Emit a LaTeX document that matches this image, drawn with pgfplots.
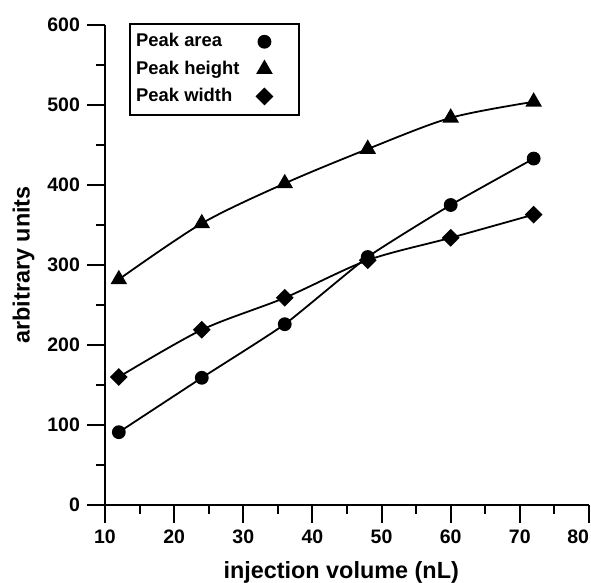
\documentclass[border=0pt]{standalone}
\usepackage{fontspec}
\setmainfont{Liberation Sans}
\usepackage{pgfplots}
\pgfplotsset{compat=1.18}
\usetikzlibrary{calc}

\begin{document}
\begin{tikzpicture}
\begin{axis}[
    name=ax,
    scale only axis,
    width=242pt, height=240pt,
    xmin=10, xmax=80, ymin=0, ymax=600,
    axis lines=left,
    axis line style={-, line width=1pt},
    xtick={10,20,...,80}, ytick={0,100,...,600},
    xticklabels={10,20,30,40,50,60,70,\llap{80}},
    minor x tick num=1, minor y tick num=1,
    tick align=outside,
    major tick length=9pt, minor tick length=4.5pt,
    every tick/.style={black, line width=1pt},
    /pgf/number format/assume math mode=true,
    ticklabel style={font=\fontsize{9.75}{11}\selectfont\bfseries},
    xlabel={injection volume (nL)},
    ylabel={arbitrary units},
    every axis x label/.style={at={(axis description cs:0.488,-0.14)}, anchor=center,
        font=\fontsize{11.7}{13}\selectfont\bfseries},
    every axis y label/.style={at={(axis description cs:-0.168,0.5)}, rotate=90, anchor=center,
        font=\fontsize{11.7}{13}\selectfont\bfseries},
    legend style={at={(axis description cs:0.05,1.005)}, anchor=north west,
        draw=black, line width=1pt, inner xsep=1pt, inner ysep=3pt,
        font=\fontsize{9.2}{11}\selectfont\bfseries, row sep=1.5pt},
    legend cell align=left,
    legend plot pos=right,
    legend image code/.code={
        \path (0cm,0cm) (0.85cm,0cm);
        \draw[mark repeat=2, mark phase=2, #1]
            plot coordinates {(0cm,0cm) (0.3cm,0cm) (0.85cm,0cm)};},
    /tikz/every odd column/.append style={column sep=1.5pt},
]
\addlegendimage{only marks, mark=*, mark size=3pt, black, line width=0.9pt}
\addlegendentry{Peak area}
\addlegendimage{only marks, mark=triangle*, mark size=3.9pt, black, line width=0.9pt}
\addlegendentry{Peak height}
\addlegendimage{only marks, mark=square*, mark size=2.7pt, black, line width=0.9pt,
    mark options={rotate=45}}
\addlegendentry{Peak width}

% peak area
\addplot[forget plot, black, line width=0.9pt, smooth, tension=0.3, mark=*, mark size=3pt,
    mark options={solid, fill=black}]
    coordinates {(12,91) (24,159) (36,226) (48,310) (60,375) (72,433)};
% peak height
\addplot[forget plot, black, line width=0.9pt, smooth, mark=triangle*, mark size=3.9pt,
    mark options={solid, fill=black}]
    coordinates {(12,282) (24,352) (36,402) (48,445) (60,484) (72,504)};
% peak width
\addplot[forget plot, black, line width=0.9pt, smooth, mark=square*, mark size=2.7pt,
    mark options={solid, fill=black, rotate=45}]
    coordinates {(12,160) (24,219) (36,259) (48,306) (60,334) (72,363)};
\end{axis}
\pgfresetboundingbox
\path[use as bounding box] ($(ax.south west)+(-52.5pt,-39pt)$) rectangle ($(ax.south west)+(243pt,252.5pt)$);
\end{tikzpicture}
\end{document}
